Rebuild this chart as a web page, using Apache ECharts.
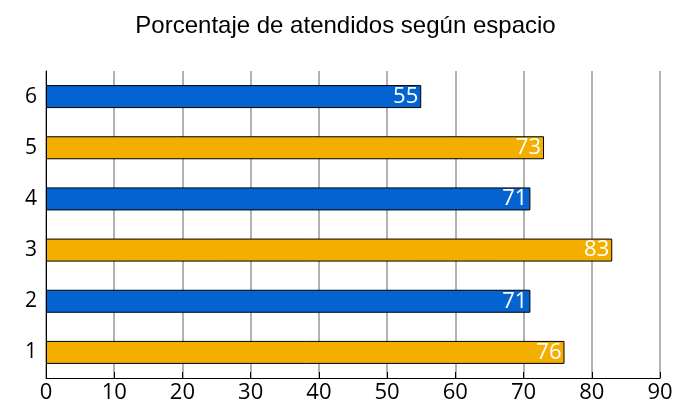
<!DOCTYPE html>
<html><head><meta charset="utf-8">
<script src="https://cdn.jsdelivr.net/npm/echarts@6/dist/echarts.min.js"></script>
<style>html,body{margin:0;padding:0;background:#fff}#c{width:691px;height:405px}</style>
</head><body><div id="c"></div>
<script>
var titleText = 'Porcentaje de atendidos según espacio';
var categories = ['1', '2', '3', '4', '5', '6'];
var values = [76, 71, 83, 71, 73, 55];
var barColors = ['#f3af00', '#0563d1', '#f3af00', '#0563d1', '#f3af00', '#0563d1'];
var xTicks = [0, 10, 20, 30, 40, 50, 60, 70, 80, 90];

var chart = echarts.init(document.getElementById('c'));
chart.setOption({
  animation: false,
  title: {
    text: titleText, left: 'center', top: 9,
    textStyle: {fontFamily: 'Liberation Sans, Arial', fontSize: 24, fontWeight: 'normal', color: '#000'}
  },
  grid: {left: 46, right: 31, top: 71, bottom: 27},
  xAxis: {
    type: 'value', min: xTicks[0], max: xTicks[xTicks.length - 1], interval: 10,
    axisLine: {show: true, lineStyle: {color: '#000', width: 1}},
    axisTick: {show: true, inside: true, length: 6, lineStyle: {color: '#000'}},
    axisLabel: {fontFamily: 'Open Sans', fontSize: 22, color: '#000', margin: 4},
    splitLine: {show: true, lineStyle: {color: '#999', width: 1.5}}
  },
  yAxis: {
    type: 'category', data: categories,
    axisLine: {show: true, lineStyle: {color: '#000', width: 1}},
    axisTick: {show: false},
    axisLabel: {fontFamily: 'Open Sans', fontSize: 21, color: '#000', margin: 9}
  },
  series: [{
    type: 'bar', barWidth: 23,
    data: values.map(function (v, i) {
      return {value: v, itemStyle: {color: barColors[i], borderColor: '#000', borderWidth: 1}};
    }),
    label: {show: true, position: 'insideRight', distance: 3, color: '#fff', fontFamily: 'Open Sans', fontSize: 22}
  }]
});
</script></body></html>
